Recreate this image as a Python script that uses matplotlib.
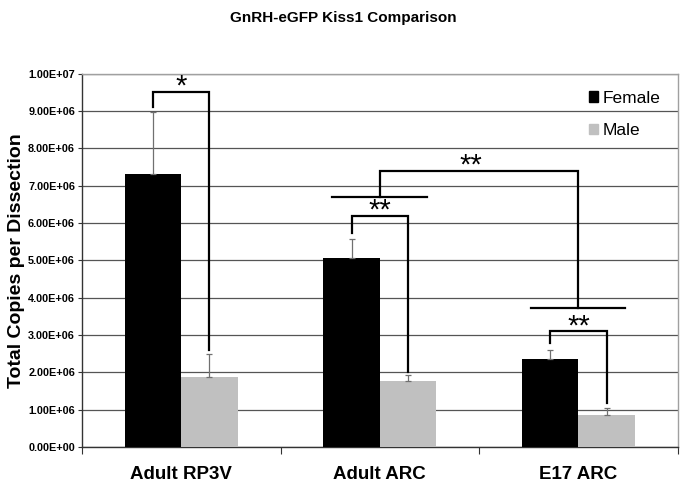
import matplotlib
matplotlib.use('Agg')
import matplotlib.pyplot as plt
import numpy as np
from matplotlib.patches import Patch

plt.rcParams['font.family'] = ['Liberation Sans', 'DejaVu Sans']

"""
Data read off the figure
"""
regions = ['Adult RP3V', 'Adult ARC', 'E17 ARC']
female = [7.32e6, 5.07e6, 2.36e6]
female_err = [1.66e6, 0.50e6, 0.25e6]
male = [1.88e6, 1.78e6, 0.85e6]
male_err = [0.60e6, 0.14e6, 0.20e6]

# female vs male brackets per region: (top, female leg end, male leg end, label)
pair_top = [9.51e6, 6.19e6, 3.10e6]
pair_left_end = [9.11e6, 5.72e6, 2.78e6]
pair_right_end = [2.60e6, 2.02e6, 1.19e6]
pair_label = ['*', '**', '**']

# Adult ARC vs E17 ARC bracket
group_line = [6.70e6, 3.71e6]
group_top = 7.40e6
group_label = '**'

ymax = 1.0e7

"""
Plot
"""
fig = plt.figure(figsize=(6.86, 4.92), dpi=100)
ax = fig.add_axes([0.1195, 0.0915, 0.8685, 0.7591])

x = np.arange(len(regions))
w = 0.284
ax.bar(x - w/2, female, w, color='black', label='Female', zorder=3)
ax.bar(x + w/2, male, w, color='#c0c0c0', label='Male', zorder=3)
ax.errorbar(x - w/2, female, yerr=[np.zeros(3), female_err], fmt='none',
            ecolor='#707070', elinewidth=0.9, capsize=2, capthick=0.9, zorder=4)
ax.errorbar(x + w/2, male, yerr=[np.zeros(3), male_err], fmt='none',
            ecolor='#707070', elinewidth=0.9, capsize=2, capthick=0.9, zorder=4)

lw = 1.6
for ii in range(len(regions)):
    xl, xr = x[ii] - w/2, x[ii] + w/2
    ax.plot([xl, xl, xr, xr], [pair_left_end[ii], pair_top[ii], pair_top[ii], pair_right_end[ii]],
            color='black', linewidth=lw, zorder=5, solid_joinstyle='miter')
    ax.text(x[ii], pair_top[ii] - 0.08e6, pair_label[ii], ha='center', va='baseline',
            fontsize=21, zorder=6)

# group lines over Adult ARC and E17 ARC
for jj, gi in enumerate([1, 2]):
    ax.plot([gi - 0.24, gi + 0.235], [group_line[jj]] * 2, color='black', linewidth=lw, zorder=5)
ax.plot([1, 1, 2, 2], [group_line[0], group_top, group_top, group_line[1]],
        color='black', linewidth=lw, zorder=5, solid_joinstyle='miter')
ax.text(1.46, group_top - 0.08e6, group_label, ha='center', va='baseline', fontsize=21, zorder=6)

ax.set_xlim(-0.5, 2.5)
ax.set_ylim(0, ymax)
ax.set_yticks(np.arange(0, ymax + 1, 1e6))
ax.set_yticklabels(['%.2E' % v for v in np.arange(0, ymax + 1, 1e6)], fontsize=7.8, fontweight='bold')
ax.yaxis.grid(True, color='#555555', linewidth=0.9, zorder=0)
ax.set_axisbelow(True)

ax.set_xticks([-0.5, 0.5, 1.5, 2.5])
ax.set_xticklabels([])
ax.set_xticks(x, minor=True)
ax.set_xticklabels(regions, minor=True, fontsize=13.5, fontweight='bold')
ax.tick_params(axis='x', which='major', direction='out', length=5, color='#333333')
ax.tick_params(axis='x', which='minor', length=0, pad=14)
ax.tick_params(axis='y', direction='out', length=3, color='#333333', pad=2)

ax.set_ylabel('Total Copies per Dissection', fontsize=14, fontweight='bold', labelpad=2)

for s in ['top', 'right']:
    ax.spines[s].set_color('#a0a0a0')
    ax.spines[s].set_linewidth(1.0)
for s in ['left', 'bottom']:
    ax.spines[s].set_color('#333333')
    ax.spines[s].set_linewidth(1.0)

handles = [Patch(color='black', label='Female'), Patch(color='#c0c0c0', label='Male')]
ax.legend(handles=handles, loc='upper right', bbox_to_anchor=(1.0, 1.0), frameon=False,
          fontsize=12.5, handlelength=0.55, handleheight=0.55, handletextpad=0.25,
          labelspacing=1.0, borderaxespad=0.6)

fig.suptitle('GnRH-eGFP Kiss1 Comparison', fontsize=11, fontweight='bold', x=0.5, y=0.978)

fig.savefig('out.png', dpi=100)
